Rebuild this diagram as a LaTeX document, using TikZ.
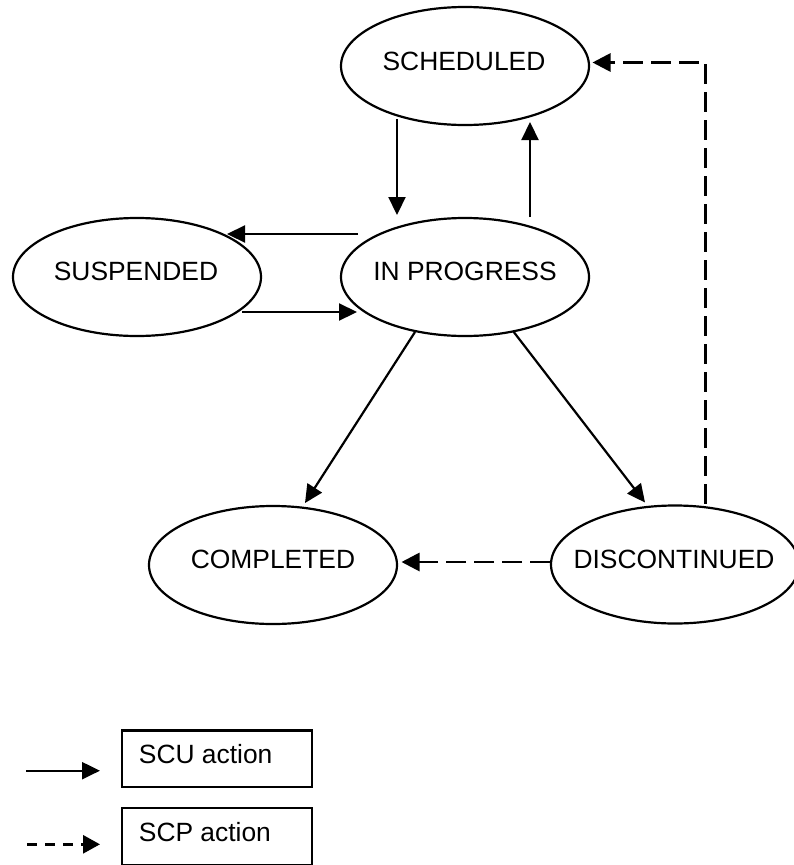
\documentclass[tikz,border=0pt]{standalone}
\usepackage{fontspec}
\setmainfont{Liberation Sans}
\usetikzlibrary{shapes.geometric,arrows.meta,calc}
\begin{document}
\begin{tikzpicture}[x=1pt,y=-1pt,
  state/.style={draw,ellipse,line width=2.2pt,minimum width=248pt,minimum height=118pt,inner sep=0pt},
  lbl/.style={anchor=base,inner sep=0pt,font=\fontsize{26.4}{30}\selectfont},
  solidarrow/.style={line width=2.2pt,-{Triangle[length=18pt,width=17pt]}},
  dasharrow/.style={line width=2.8pt,dash pattern=on 20pt off 8pt,-{Triangle[length=18pt,width=18pt]}},
  legdash/.style={line width=2.8pt,dash pattern=on 10pt off 8pt,-{Triangle[length=17pt,width=18pt]}},
  legbox/.style={draw,rectangle,line width=2.2pt,minimum width=190.4pt,minimum height=56.8pt,inner sep=0pt},
]
\useasboundingbox (0,0) rectangle (793,865);

% states
\node[state] (sch) at (465,66) {};
\node[lbl] (schl) at ($(sch.center)+(-1,4)$) {SCHEDULED};
\node[state] (inp) at (465,277) {};
\node[lbl] (inpl) at ($(inp.center)+(0,3)$) {IN PROGRESS};
\node[state] (sus) at (137,277) {};
\node[lbl] (susl) at ($(sus.center)+(-1,3)$) {SUSPENDED};
\node[state] (com) at (273,565) {};
\node[lbl] (coml) at ($(com.center)+(0,3)$) {COMPLETED};
\node[state] (dis) at (675,564.5) {};
\node[lbl] (disl) at ($(dis.center)+(-1,3.5)$) {DISCONTINUED};

% SCU actions
\draw[solidarrow] ($(sch.center)+(-68,53)$) -- ($(inp.center)+(-68,-62)$);
\draw[solidarrow] ($(inp.center)+(65,-60)$) -- ($(sch.center)+(65,56)$);
\draw[solidarrow] ($(inp.center)+(-107,-43)$) -- ($(sus.center)+(90,-43)$);
\draw[solidarrow] ($(sus.center)+(105,35)$) -- ($(inp.center)+(-108,35)$);
\draw[solidarrow] ($(inp.center)+(-50,55)$) -- ($(com.center)+(32,-62)$);
\draw[solidarrow] ($(inp.center)+(48,54)$) -- ($(dis.center)+(-30,-62)$);

% SCP actions
\draw[dasharrow] ($(dis.center)+(-125,-2.5)$) -- ($(com.center)+(128.5,-3)$);
\draw[dasharrow] ($(dis.center)+(30.5,-61)$) |- ($(sch.center)+(127.5,-3.5)$);

% legend
\coordinate (la1) at (26,770.7);
\coordinate (la2) at (100,770.7);
\draw[solidarrow] (la1) -- (la2);
\node[legbox] (box1) at (217,758.8) {};
\node[lbl,anchor=base west] (t1) at ($(box1.north west)+(18,34)$) {SCU action};

\coordinate (lb1) at (27,844.3);
\coordinate (lb2) at (100,844.3);
\draw[legdash] (lb1) -- (lb2);
\node[legbox] (box2) at (217,836.2) {};
\node[lbl,anchor=base west] (t2) at ($(box2.north west)+(18,35)$) {SCP action};
\end{tikzpicture}
\end{document}
